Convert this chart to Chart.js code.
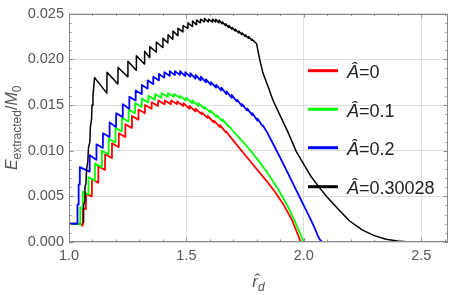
<!DOCTYPE html>
<html><head><meta charset="utf-8">
<script src="https://cdn.jsdelivr.net/npm/chart.js@4.4.1/dist/chart.umd.min.js"></script>
<style>html,body{margin:0;padding:0;background:#fff;}canvas{display:block;}</style>
</head><body>
<canvas id="c" width="449" height="295"></canvas>
<script>
const xTicks=[1.0,1.5,2.0,2.5];
const yTicks=[0,0.005,0.010,0.015,0.020,0.025];
const seriesNames=['0','0.1','0.2','0.30028'];
const seriesColors=['#ff0000','#00ff00','#0000ff','#000000'];

const curveA0=[[1.000,0.0020],[1.050,0.0020],[1.058,0.0018],[1.059,0.0037],[1.072,0.0036],[1.073,0.0053],
[1.097,0.0050],[1.098,0.0069],[1.124,0.0065],[1.125,0.0083],[1.153,0.0079],[1.154,0.0096],[1.182,0.0092],[1.183,0.0108],
[1.211,0.0104],[1.212,0.0119],[1.239,0.0115],[1.240,0.0129],[1.267,0.0125],[1.268,0.0138],[1.295,0.0134],[1.296,0.0145],
[1.323,0.0141],[1.324,0.0150],[1.351,0.0146],[1.352,0.0153],[1.379,0.0149],[1.380,0.0155],[1.407,0.0151],[1.408,0.0155],
[1.434,0.0151],[1.435,0.0155],[1.460,0.0151],[1.461,0.0154],[1.486,0.0149],[1.487,0.0152],[1.512,0.0146],[1.513,0.0149],
[1.538,0.0143],[1.539,0.0146],[1.564,0.0140],[1.565,0.0142],[1.590,0.0136],[1.591,0.0138],[1.616,0.0131],[1.617,0.0133],
[1.642,0.0126],[1.643,0.0128],[1.668,0.0120],[1.669,0.0121],[1.700,0.0111],[1.741,0.0098],[1.770,0.0089],[1.812,0.0076],
[1.841,0.0067],[1.880,0.0054],[1.911,0.0042],[1.950,0.0024],[1.987,0.0000]];

const curveA01=[[1.000,0.0020],[1.044,0.0020],[1.047,0.0019],[1.048,0.0038],[1.058,0.0037],[1.059,0.0055],
[1.082,0.0052],[1.083,0.0071],[1.110,0.0067],[1.111,0.0086],[1.139,0.0082],[1.140,0.0100],[1.168,0.0096],[1.169,0.0113],
[1.197,0.0109],[1.198,0.0125],[1.225,0.0121],[1.226,0.0136],[1.253,0.0132],[1.254,0.0145],[1.281,0.0141],[1.282,0.0152],
[1.309,0.0148],[1.310,0.0157],[1.337,0.0153],[1.338,0.0160],[1.365,0.0156],[1.366,0.0162],[1.393,0.0158],[1.394,0.0163],
[1.420,0.0159],[1.421,0.0163],[1.446,0.0159],[1.447,0.0162],[1.472,0.0158],[1.473,0.0160],[1.498,0.0155],[1.499,0.0158],
[1.524,0.0152],[1.525,0.0155],[1.550,0.0149],[1.551,0.0152],[1.576,0.0146],[1.577,0.0148],[1.602,0.0142],[1.603,0.0144],
[1.628,0.0137],[1.629,0.0139],[1.654,0.0132],[1.655,0.0134],[1.680,0.0126],[1.681,0.0127],[1.700,0.0121],[1.740,0.0110],
[1.770,0.0101],[1.810,0.0088],[1.850,0.0074],[1.890,0.0058],[1.930,0.0040],[1.965,0.0021],[2.000,0.0000]];

const curveA02=[[1.000,0.0020],[1.035,0.0020],[1.036,0.0041],[1.040,0.0041],[1.041,0.0063],[1.045,0.0063],[1.046,0.0082],
[1.087,0.0077],[1.088,0.0095],[1.116,0.0090],[1.117,0.0107],[1.144,0.0103],[1.145,0.0119],[1.172,0.0115],[1.173,0.0131],
[1.200,0.0126],[1.201,0.0141],[1.228,0.0137],[1.229,0.0151],[1.256,0.0146],[1.257,0.0159],[1.283,0.0155],[1.284,0.0166],
[1.309,0.0162],[1.310,0.0172],[1.334,0.0168],[1.335,0.0177],[1.358,0.0173],[1.359,0.0181],[1.382,0.0177],[1.383,0.0184],
[1.405,0.0180],[1.406,0.0186],[1.428,0.0182],[1.429,0.0187],[1.450,0.0183],[1.451,0.0187],[1.472,0.0183],[1.473,0.0187],
[1.494,0.0182],[1.495,0.0186],[1.516,0.0181],[1.517,0.0185],[1.538,0.0179],[1.539,0.0183],[1.560,0.0177],[1.561,0.0181],
[1.582,0.0175],[1.583,0.0178],[1.604,0.0172],[1.605,0.0175],[1.626,0.0169],[1.627,0.0172],[1.648,0.0166],[1.649,0.0169],
[1.670,0.0162],[1.671,0.0165],[1.692,0.0158],[1.693,0.0161],[1.714,0.0154],[1.715,0.0156],[1.736,0.0149],[1.737,0.0151],
[1.758,0.0144],[1.759,0.0146],[1.780,0.0139],[1.781,0.0141],[1.802,0.0133],[1.803,0.0135],[1.824,0.0127],[1.825,0.0128],
[1.846,0.0119],[1.876,0.0104],[1.910,0.0087],[1.954,0.0064],[1.990,0.0045],[2.025,0.0027],[2.045,0.0016],[2.061,0.0006],
[2.070,0.0002],[2.079,0.0000]];

const curveA03=[[1.060,0.0021],[1.062,0.0040],[1.066,0.0044],[1.068,0.0060],[1.072,0.0064],[1.075,0.0080],[1.080,0.0088],
[1.083,0.0103],[1.089,0.0110],[1.091,0.0126],[1.096,0.0134],[1.098,0.0150],[1.102,0.0160],[1.104,0.0166],[1.109,0.0180],
[1.161,0.0163],[1.162,0.0186],[1.208,0.0173],[1.209,0.0191],[1.250,0.0181],[1.251,0.0198],[1.286,0.0188],[1.287,0.0204],
[1.321,0.0195],[1.322,0.0209],[1.343,0.0202],[1.344,0.0214],[1.371,0.0208],[1.372,0.0219],[1.399,0.0213],[1.400,0.0223],
[1.421,0.0218],[1.422,0.0227],[1.442,0.0222],[1.443,0.0231],[1.463,0.0226],[1.464,0.0234],[1.485,0.0230],[1.486,0.0237],
[1.506,0.0234],[1.507,0.0240],[1.525,0.0236],[1.526,0.0242],[1.542,0.0238],[1.543,0.0243],[1.559,0.0240],[1.560,0.0244],
[1.576,0.0241],[1.577,0.0245],[1.593,0.0241],[1.594,0.0244],[1.610,0.0241],[1.611,0.0244],[1.624,0.0241],[1.625,0.0244],
[1.638,0.0240],[1.639,0.0243],[1.652,0.0239],[1.653,0.0241],[1.666,0.0237],[1.667,0.0239],[1.680,0.0235],[1.681,0.0237],
[1.694,0.0233],[1.695,0.0235],[1.708,0.0231],[1.709,0.0233],[1.722,0.0229],[1.723,0.0231],[1.736,0.0227],[1.737,0.0229],
[1.750,0.0225],[1.751,0.0227],[1.764,0.0223],[1.765,0.0225],[1.778,0.0221],[1.779,0.0222],[1.799,0.0217],[1.812,0.0200],
[1.826,0.0185],[1.848,0.0170],[1.869,0.0155],[1.900,0.0138],[1.933,0.0120],[1.968,0.0099],[2.000,0.0085],[2.030,0.0072],
[2.068,0.0059],[2.100,0.0049],[2.150,0.0035],[2.195,0.0023],[2.250,0.0013],[2.300,0.0007],[2.350,0.0003],[2.400,0.0001],
[2.450,0.0000]];

const curves=[curveA0,curveA01,curveA02,curveA03];
const FONT='"Liberation Sans", Arial, sans-serif';
const AXIS_GRAY='#8a8a8a';
const TEXT_GRAY='#555555';

const frame={id:'frame',afterDraw(chart){
  const {ctx,chartArea:a,scales:{x,y}}=chart;
  ctx.save();
  ctx.strokeStyle=AXIS_GRAY;ctx.lineWidth=1;
  ctx.strokeRect(Math.round(a.left)+0.5,Math.round(a.top)+0.5,Math.round(a.right-a.left)-1,Math.round(a.bottom-a.top)-1);
  ctx.beginPath();
  for(let i=0;i<=16;i++){
    const v=1+i*0.1; const px=Math.round(x.getPixelForValue(v))+0.5;
    if(px>a.right-1) break;
    const L=(i%5===0)?4:2.5;
    ctx.moveTo(px,a.bottom);ctx.lineTo(px,a.bottom-L);
    ctx.moveTo(px,a.top);ctx.lineTo(px,a.top+L);
  }
  for(let i=0;i<=25;i++){
    const v=i*0.001; const py=Math.round(y.getPixelForValue(v))+0.5;
    const L=(i%5===0)?4.5:2.5;
    ctx.moveTo(a.left,py);ctx.lineTo(a.left+L,py);
    ctx.moveTo(a.right,py);ctx.lineTo(a.right-L,py);
  }
  ctx.stroke();
  // legend
  const lx0=308,lx1=338,tx=347,ys=[70.7,109.3,147.7,186.7];
  seriesNames.forEach((n,i)=>{
    ctx.strokeStyle=seriesColors[i];ctx.lineWidth=3;
    ctx.beginPath();ctx.moveTo(lx0,ys[i]);ctx.lineTo(lx1,ys[i]);ctx.stroke();
    ctx.fillStyle='#222';ctx.textBaseline='alphabetic';ctx.textAlign='left';
    ctx.font='italic 18px '+FONT; const w=ctx.measureText('Â').width;
    ctx.fillText('Â',tx,ys[i]+7.6);
    ctx.font='18px '+FONT; ctx.fillText('='+n,tx+w,ys[i]+7.6);
  });
  // y title
  ctx.save();
  ctx.translate(17,(a.top+a.bottom)/2);ctx.rotate(-Math.PI/2);
  const parts=[{t:'E',f:'italic 16px '+FONT,dy:0},{t:'extracted',f:'12px '+FONT,dy:3.5},{t:'/',f:'16px '+FONT,dy:0},{t:'M',f:'italic 16px '+FONT,dy:0},{t:'0',f:'12px '+FONT,dy:3.5}];
  let W=0;parts.forEach(p=>{ctx.font=p.f;p.w=ctx.measureText(p.t).width;W+=p.w;});
  let cx=-W/2;ctx.fillStyle=TEXT_GRAY;ctx.textAlign='left';ctx.textBaseline='alphabetic';
  parts.forEach(p=>{ctx.font=p.f;ctx.fillText(p.t,cx,p.dy);cx+=p.w;});
  ctx.restore();
  // x title
  const xc=(a.left+a.right)/2, base=287;
  ctx.font='italic 17px '+FONT; const rw=ctx.measureText('r').width;
  ctx.font='italic 12px '+FONT; const dw=ctx.measureText('d').width;
  const sx=xc-(rw+dw)/2;
  ctx.fillStyle=TEXT_GRAY;ctx.textAlign='left';
  ctx.font='italic 17px '+FONT; ctx.fillText('r',sx,base);
  ctx.textAlign='center'; ctx.fillText('ˆ',sx+rw/2+1.5,base-1);
  ctx.textAlign='left'; ctx.font='italic 12px '+FONT; ctx.fillText('d',sx+rw,base+4);
  ctx.restore();
}};

const datasets=curves.map((c,i)=>({
  label:'Â='+seriesNames[i],
  data:c.map(p=>({x:p[0],y:p[1]})),
  borderColor:seriesColors[i],backgroundColor:seriesColors[i],
  borderWidth:i===3?1.5:1.8,pointRadius:0,showLine:true,tension:0,fill:false,
  borderJoinStyle:'round',order:3-i
}));

new Chart(document.getElementById('c'),{
  type:'scatter',
  data:{datasets},
  options:{
    responsive:false,animation:false,devicePixelRatio:1,
    layout:{padding:{left:0,right:1,top:8,bottom:0}},
    plugins:{legend:{display:false},tooltip:{enabled:false}},
    scales:{
      x:{type:'linear',min:1.0,max:2.614,
        afterBuildTicks:s=>{s.ticks=xTicks.map(v=>({value:v}));},
        afterFit:s=>{s.height=53;},
        grid:{color:'#dedede',lineWidth:1,drawTicks:false},
        border:{display:false},
        ticks:{padding:5,color:TEXT_GRAY,font:{family:FONT,size:14.5},maxRotation:0,callback:v=>Number(v).toFixed(1)}},
      y:{type:'linear',min:0,max:0.025,
        afterBuildTicks:s=>{s.ticks=yTicks.map(v=>({value:v}));},
        afterFit:s=>{s.width=69;},
        grid:{color:'#dedede',lineWidth:1,drawTicks:false},
        border:{display:false},
        ticks:{padding:5,color:TEXT_GRAY,font:{family:FONT,size:14.5},callback:v=>Number(v).toFixed(3)}}
    }
  },
  plugins:[frame]
});
</script>
</body></html>
